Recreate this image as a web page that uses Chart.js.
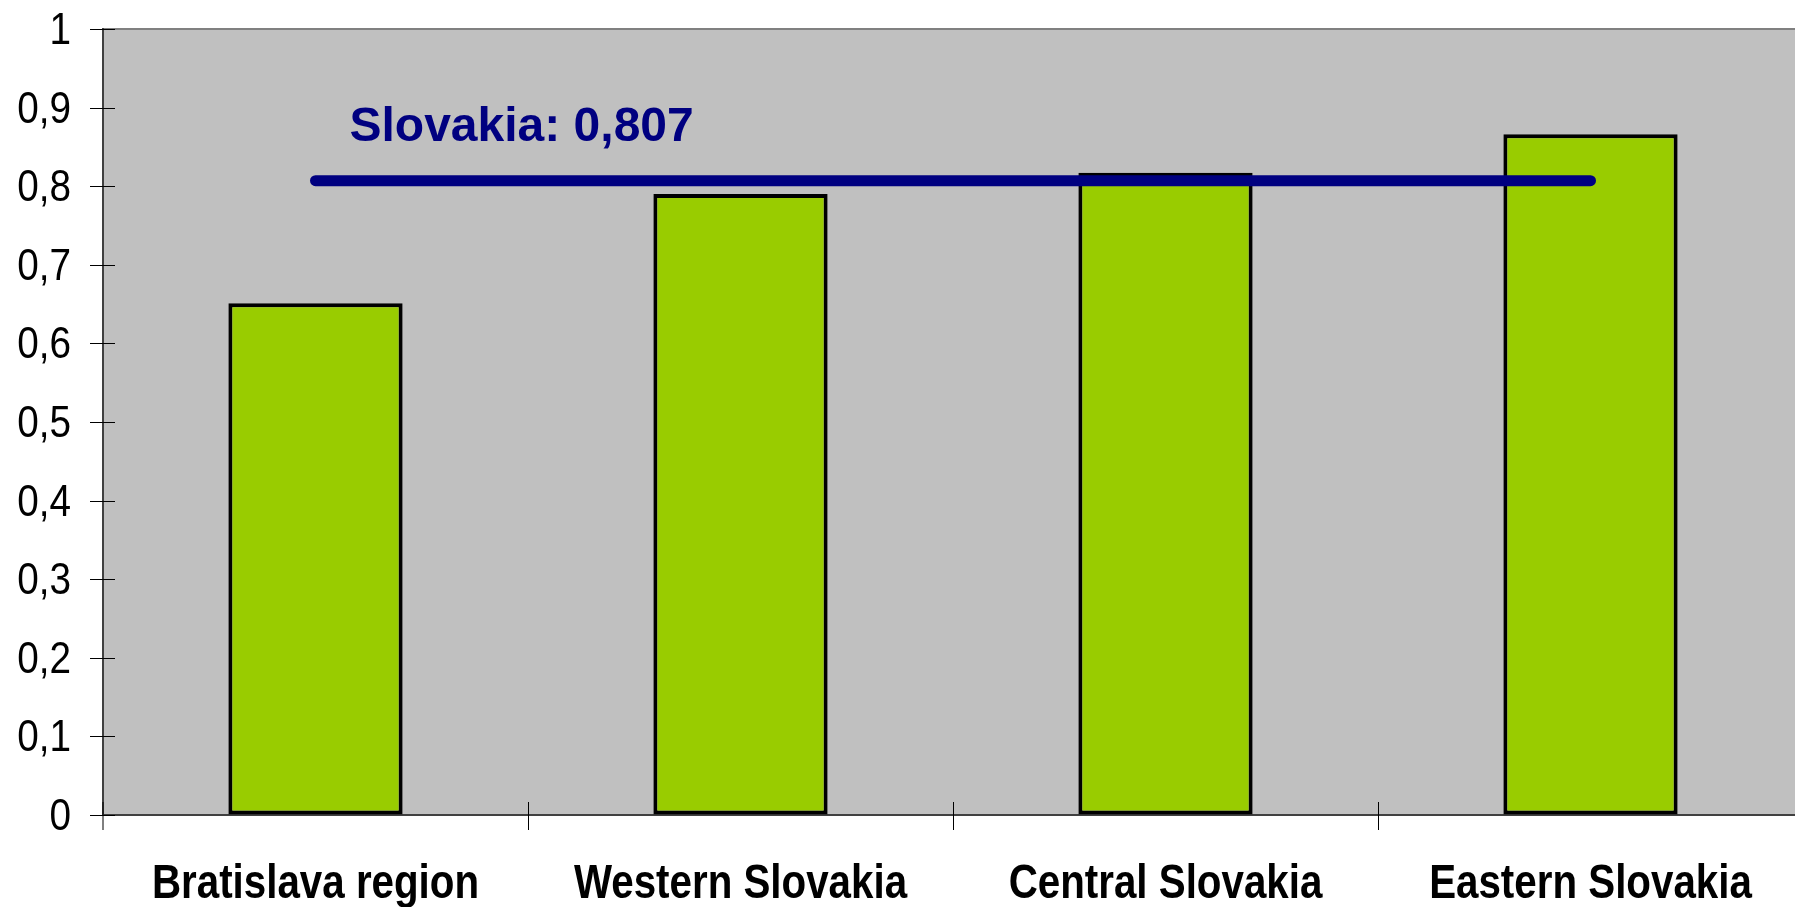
<!DOCTYPE html>
<html>
<head>
<meta charset="utf-8">
<script src="https://cdn.jsdelivr.net/npm/chart.js@4/dist/chart.umd.min.js"></script>
<style>
  html, body { margin: 0; padding: 0; background: #fff; overflow: hidden; }
  canvas { display: block; }
</style>
</head>
<body>
<canvas id="regionChart" width="1803" height="907"></canvas>
<script>
// --- DATA ---
const regions = ['Bratislava region', 'Western Slovakia', 'Central Slovakia', 'Eastern Slovakia'];
const regionValues = [0.651, 0.790, 0.817, 0.866];
const nationalValue = 0.807;
const nationalLine = [nationalValue, nationalValue, nationalValue, nationalValue];
const nationalLabel = 'Slovakia: 0,807';
const yTickLabels = ['0', '0,1', '0,2', '0,3', '0,4', '0,5', '0,6', '0,7', '0,8', '0,9', '1'];

const baseFont = '"Liberation Sans", Arial, sans-serif';

// condensed text, like the old Excel export
function narrowText(ctx, text, x, y, align, sx) {
    ctx.save();
    ctx.translate(x, y);
    ctx.scale(sx, 1);
    ctx.textAlign = align;
    ctx.textBaseline = 'alphabetic';
    ctx.fillText(text, 0, 0);
    ctx.restore();
}

// --- PLOT AREA, CROSSING TICKS, LABELS AND ANNOTATION ---
const excelLook = {
    id: 'excelLook',
    beforeDraw(chart) {
        const { ctx, chartArea: a } = chart;
        ctx.save();
        ctx.fillStyle = '#c0c0c0';
        ctx.fillRect(a.left, a.top, a.right - a.left, a.bottom - a.top);
        ctx.strokeStyle = '#808080';
        ctx.lineWidth = 2;
        ctx.beginPath();
        ctx.moveTo(a.left, a.top);
        ctx.lineTo(a.right, a.top);
        ctx.stroke();
        ctx.restore();
    },
    afterDraw(chart) {
        const { ctx, chartArea: a, scales } = chart;
        const x = scales.x, y = scales.y;
        ctx.save();
        ctx.strokeStyle = '#000';
        ctx.lineWidth = 1;
        ctx.fillStyle = '#000';
        // y ticks crossing the axis + labels
        ctx.font = '45px ' + baseFont;
        y.ticks.forEach((t, i) => {
            const py = y.getPixelForTick(i);
            ctx.beginPath();
            ctx.moveTo(a.left - 13, Math.round(py) + 0.5);
            ctx.lineTo(a.left + 12, Math.round(py) + 0.5);
            ctx.stroke();
            narrowText(ctx, yTickLabels[i], a.left - 32, py + 15, 'right', 0.86);
        });
        // x ticks at category boundaries + labels
        ctx.font = 'bold 48px ' + baseFont;
        for (let i = 0; i < regions.length; i++) {
            const px = i === 0 ? a.left
                : Math.round((x.getPixelForValue(i - 1) + x.getPixelForValue(i)) / 2) + 0.5;
            ctx.beginPath();
            ctx.moveTo(px, a.bottom - 13);
            ctx.lineTo(px, a.bottom + 15);
            ctx.stroke();
            narrowText(ctx, regions[i], x.getPixelForValue(i), a.bottom + 83, 'center', 0.84);
        }
        // national average label
        ctx.fillStyle = '#000080';
        ctx.font = 'bold 48px ' + baseFont;
        ctx.textAlign = 'left';
        ctx.textBaseline = 'middle';
        ctx.fillText(nationalLabel, x.getPixelForValue(0) + 34, y.getPixelForValue(nationalValue) - 53);
        ctx.restore();
    }
};

const ctx = document.getElementById('regionChart').getContext('2d');

const chart = new Chart(ctx, {
    data: {
        labels: regions,
        datasets: [
            {
                type: 'line',
                label: 'Slovakia',
                data: nationalLine,
                borderColor: '#000080',
                borderWidth: 11,
                borderCapStyle: 'round',
                pointRadius: 0,
                tension: 0,
                order: 0
            },
            {
                type: 'bar',
                label: 'Regions',
                data: regionValues,
                backgroundColor: '#99cc00',
                borderColor: '#000000',
                borderWidth: 4,
                borderSkipped: false,
                categoryPercentage: 1,
                barPercentage: 0.41,
                order: 1
            }
        ]
    },
    options: {
        responsive: false,
        devicePixelRatio: 1,
        animation: false,
        layout: { autoPadding: false, padding: { top: 29, right: 0, left: 0, bottom: 0 } },
        scales: {
            x: {
                offset: true,
                grid: { drawOnChartArea: false, drawTicks: false },
                border: { display: true, color: '#404040', width: 2 },
                ticks: { display: false },
                afterFit: s => { s.height = 92; }
            },
            y: {
                min: 0,
                max: 1,
                grid: { drawOnChartArea: false, drawTicks: false },
                border: { display: true, color: '#404040', width: 2 },
                ticks: { display: false, stepSize: 0.1 },
                afterFit: s => { s.width = 103; }
            }
        },
        plugins: {
            legend: { display: false },
            tooltip: { enabled: false }
        }
    },
    plugins: [excelLook]
});
</script>
</body>
</html>
